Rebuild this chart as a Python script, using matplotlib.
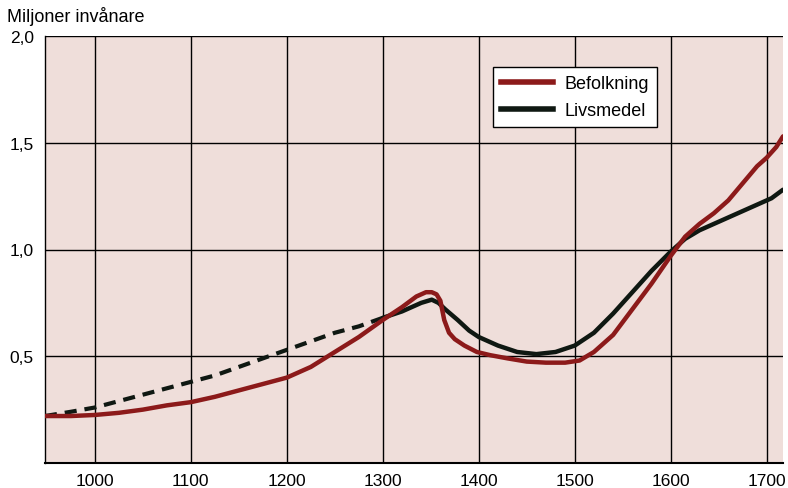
import matplotlib
matplotlib.use("Agg")
import matplotlib.pyplot as plt
from matplotlib.lines import Line2D

plt.rcParams['font.family'] = ['Liberation Sans', 'DejaVu Sans']

# Befolkning (population, millions)
bef_years = [948, 975, 1000, 1025, 1050, 1075, 1100, 1125, 1150, 1175, 1200, 1225, 1250,
             1275, 1300, 1320, 1335, 1345, 1351, 1356, 1360, 1364, 1369, 1375, 1385, 1398,
             1412, 1430, 1450, 1470, 1490, 1505, 1520, 1540, 1560, 1580, 1600, 1615, 1630,
             1645, 1660, 1675, 1690, 1700, 1710, 1717]
bef_values = [0.22, 0.22, 0.225, 0.235, 0.25, 0.27, 0.285, 0.31, 0.34, 0.37, 0.40, 0.45, 0.52,
              0.59, 0.67, 0.73, 0.78, 0.80, 0.80, 0.79, 0.76, 0.67, 0.61, 0.58, 0.55, 0.52,
              0.505, 0.49, 0.475, 0.47, 0.47, 0.48, 0.52, 0.60, 0.72, 0.84, 0.97, 1.06, 1.12,
              1.17, 1.23, 1.31, 1.39, 1.43, 1.48, 1.53]

# Livsmedel (food supply) - dashed (estimated) part up to 1300, solid after
liv_years = [948, 975, 1000, 1025, 1050, 1075, 1100, 1125, 1150, 1175, 1200, 1225, 1250,
             1275, 1300, 1320, 1340, 1351, 1358, 1365, 1378, 1390, 1400, 1420, 1440, 1460,
             1480, 1500, 1520, 1540, 1560, 1580, 1600, 1615, 1630, 1650, 1670, 1690, 1705, 1717]
liv_values = [0.22, 0.24, 0.26, 0.29, 0.32, 0.35, 0.38, 0.41, 0.45, 0.49, 0.53, 0.57, 0.61,
              0.64, 0.68, 0.71, 0.75, 0.765, 0.75, 0.72, 0.67, 0.62, 0.59, 0.55, 0.52, 0.51,
              0.52, 0.55, 0.61, 0.70, 0.80, 0.90, 0.99, 1.05, 1.09, 1.13, 1.17, 1.21, 1.24, 1.28]
liv_dashed_until = 1300

x_ticks = [1000, 1100, 1200, 1300, 1400, 1500, 1600, 1700]
y_ticks = [0.5, 1.0, 1.5, 2.0]
y_tick_labels = ["0,5", "1,0", "1,5", "2,0"]

red = "#8c1a1a"
black = "#0f1812"

fig = plt.figure(figsize=(7.88, 4.89), dpi=100)
ax = fig.add_axes([45/788, 1 - 464/489, 738/788, 427/489])
ax.set_facecolor("#efdeda")

ax.set_xlim(948, 1717)
ax.set_ylim(0, 2.0)

for xv in x_ticks:
    ax.axvline(xv, color="black", lw=1.0, zorder=1)
for yv in y_ticks:
    ax.axhline(yv, color="black", lw=1.0, zorder=1)

ax.set_xticks(x_ticks)
ax.set_xticklabels([str(v) for v in x_ticks], fontsize=12.5)
ax.set_yticks(y_ticks)
ax.set_yticklabels(y_tick_labels, fontsize=12.5)
ax.tick_params(length=0)
ax.tick_params(axis='y', pad=8)
ax.tick_params(axis='x', pad=7)

for s in ["right", "top"]:
    ax.spines[s].set_visible(False)
ax.spines["bottom"].set_color("black")
ax.spines["bottom"].set_linewidth(1.5)
ax.spines["left"].set_color("black")
ax.spines["left"].set_linewidth(1.0)

# Livsmedel
d_idx = liv_years.index(liv_dashed_until)
ax.plot(liv_years[:d_idx + 1], liv_values[:d_idx + 1], color=black, lw=3,
        linestyle=(0, (2.9, 1.9)), zorder=3, solid_capstyle='butt')
ax.plot(liv_years[d_idx:], liv_values[d_idx:], color=black, lw=3.2, zorder=3,
        solid_capstyle='round', solid_joinstyle='round')
# Befolkning
ax.plot(bef_years, bef_values, color=red, lw=3.2, zorder=4,
        solid_capstyle='round', solid_joinstyle='round')

handles = [Line2D([0], [0], color=red, lw=4), Line2D([0], [0], color=black, lw=4)]
leg = ax.legend(handles, ["Befolkning", "Livsmedel"], loc="upper left",
                bbox_to_anchor=((493 - 45) / 738, (464 - 68) / 427),
                fontsize=13, frameon=True, fancybox=False, framealpha=1,
                edgecolor="black", handlelength=2.9, borderpad=0.45,
                labelspacing=0.55, handletextpad=0.6, borderaxespad=0)
leg.get_frame().set_linewidth(1.0)

fig.text(7 / 788, 1 - 17 / 489, "Miljoner invånare", fontsize=13, va="center", ha="left")

fig.savefig("out.png", dpi=100, facecolor="white")
